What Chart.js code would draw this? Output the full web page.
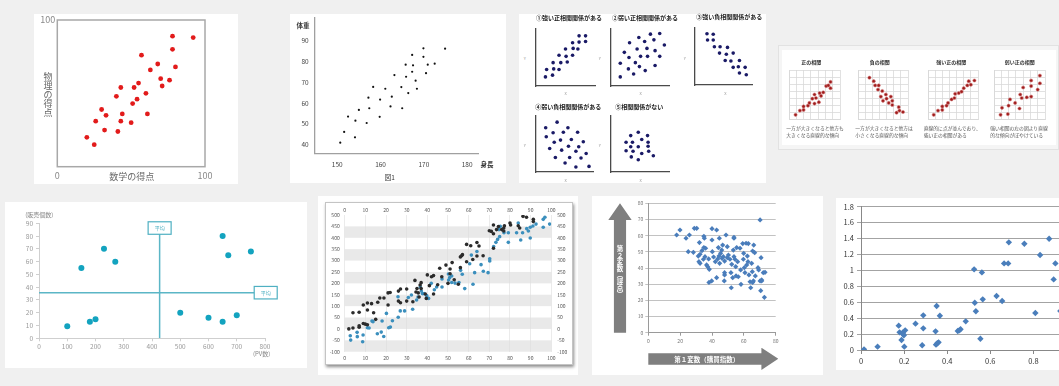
<!DOCTYPE html>
<html lang="ja">
<head>
<meta charset="utf-8">
<script src="https://cdn.jsdelivr.net/npm/chart.js@4.4.1/dist/chart.umd.min.js"></script>
<style>
  html, body { margin: 0; padding: 0; }
  body { position: relative; width: 1059px; height: 386px; overflow: hidden; background: #f0f0f0;
         font-family: 'Noto Sans CJK JP', 'Noto Sans', sans-serif; }
  .panel { position: absolute; background: #fff; }
  .t { position: absolute; white-space: nowrap; line-height: 1; }
</style>
</head>
<body>
<script>
// ---- data ----

// 数学と物理の得点
const mathScore = [78, 92, 78, 57, 68, 80, 63, 70, 76, 55, 71, 43, 52, 40, 60, 54, 51, 30, 44, 33, 61, 26, 43, 50, 32, 41, 20, 25];
const physicsScore = [89, 88, 80, 76, 70, 68, 66, 60, 59, 57, 55, 54, 54, 48, 50, 46, 43, 39, 36, 35, 36, 31, 31, 30, 25, 24, 20, 15];

// 身長と体重 (図1)
const heightCm = [174.9, 169.9, 167.3, 169.9, 165.8, 167.5, 170.9, 172.5, 163.2, 165.9, 167.3, 170.5, 168.1, 158.3, 161.1, 164.8,
                  168.4, 166.4, 157.2, 159.9, 162.6, 157.4, 155.0, 162.3, 165.0, 152.5, 159.8, 154.2, 156.8, 151.6, 154.1, 150.7];
const weightKg = [86.2, 86.4, 83.2, 82.3, 78.5, 78.2, 78.5, 79.0, 73.5, 72.7, 75.1, 74.4, 70.8, 67.8, 66.9, 67.7,
                  66.9, 64.8, 62.6, 61.7, 63.1, 57.5, 56.7, 58.4, 57.5, 53.5, 53.4, 51.5, 50.4, 46.1, 43.5, 40.9];
const heightTicks = [150, 160, 170, 180];
const weightTicks = [40, 50, 60, 70, 80, 90];

// 相関の5パターン
const strongPosX = [16, 28, 18, 30, 39, 29, 42, 53, 39, 51, 62, 50, 63, 71, 62, 73, 84, 73, 84];
const strongPosY = [16, 19, 29, 30, 29, 41, 41, 42, 54, 52, 54, 65, 66, 65, 76, 77, 78, 88, 88];
const weakPosX = [16, 39, 59, 30, 42, 49, 76, 16, 31, 51, 63, 84, 23, 45, 62, 76, 32, 58, 92, 48, 74, 68, 84];
const weakPosY = [16, 21, 27, 30, 41, 34, 36, 40, 50, 52, 52, 52, 59, 65, 66, 62, 76, 78, 72, 85, 81, 91, 92];
const strongNegX = [21, 32, 22, 32, 34, 44, 57, 43, 55, 67, 53, 63, 78, 67, 76, 88, 78, 90];
const strongNegY = [90, 89, 79, 79, 67, 67, 66, 56, 54, 56, 43, 42, 43, 31, 32, 31, 21, 18];
const weakNegX = [17, 37, 56, 18, 30, 48, 73, 32, 43, 62, 83, 24, 45, 57, 75, 70, 34, 59, 88, 51, 79, 70, 93];
const weakNegY = [79, 89, 79, 63, 70, 71, 71, 53, 57, 58, 54, 42, 39, 46, 45, 37, 26, 26, 33, 16, 25, 9, 10];
const noneX = [34, 47, 63, 26, 37, 53, 64, 34, 47, 64, 26, 38, 53, 65, 35, 47, 73];
const noneY = [65, 71, 65, 53, 53, 58, 53, 45, 45, 46, 38, 37, 33, 37, 27, 22, 29];

// 相関の4つの例 (グリッド 0-7)
const posX = [0.9, 1.5, 2.0, 2.0, 2.6, 2.8, 3.2, 3.5, 3.7, 4.1, 3.5, 4.2, 4.4, 4.7, 5.1, 5.4, 5.7, 5.7];
const posY = [0.6, 1.2, 1.3, 1.8, 1.9, 2.3, 2.9, 2.2, 3.0, 2.4, 3.5, 3.7, 3.3, 3.8, 4.7, 4.8, 4.4, 5.3];
const negX = [1.6, 2.2, 2.4, 2.9, 2.8, 3.4, 3.2, 3.5, 3.9, 4.0, 4.6, 4.3, 4.8, 4.8, 5.7, 5.8, 5.4, 6.3];
const negY = [5.9, 5.4, 4.8, 4.8, 4.2, 4.0, 3.2, 2.6, 3.5, 2.9, 3.2, 2.3, 2.6, 2.0, 1.7, 1.2, 0.9, 1.0];
const strongX = [0.8, 1.4, 2.0, 2.0, 2.6, 2.8, 3.3, 3.7, 3.8, 4.3, 4.7, 5.0, 5.5, 5.7, 6.0, 6.5];
const strongY = [0.6, 1.2, 1.3, 1.8, 1.9, 2.3, 2.8, 3.0, 3.6, 3.7, 3.9, 4.4, 4.8, 5.4, 4.9, 5.5];
const weakX = [0.9, 1.1, 1.9, 2.0, 2.2, 2.9, 3.5, 3.6, 3.8, 4.0, 4.5, 5.1, 5.1, 5.1, 6.0, 6.3, 6.3];
const weakY = [0.6, 1.6, 0.7, 1.9, 2.8, 2.3, 1.5, 3.5, 3.0, 4.5, 3.1, 3.2, 4.7, 5.5, 4.2, 5.1, 6.2];

// PV数と販売個数
const pvCount = [100, 150, 180, 200, 230, 270, 500, 600, 650, 650, 670, 700, 750];
const salesCount = [9.5, 55, 13, 15, 70, 60, 20, 16, 80, 13, 65, 18, 68];
const avgPv = 427;
const avgSales = 35.7;

// 2系列の散布図
const seriesAX = [2, 4, 4, 7, 7, 7, 9, 10, 11, 9, 11, 13, 11, 14, 15, 16, 17, 19, 21, 22, 21, 26, 27, 27, 26, 30, 30, 33, 34, 35,
                  34.5, 35.6, 36.5, 37, 37, 36, 39, 39.5, 40, 41, 42, 43, 43, 45, 46, 47, 49, 50, 51, 51, 52, 53, 55, 56, 56.6, 57, 56, 59, 59, 61,
                  62, 64, 64, 65, 67, 70, 71, 72, 72, 72, 73.5, 74.4, 76, 77, 77, 77.3, 80, 80.3, 84, 84.7, 86.3, 88, 91.3, 91.3];
const seriesAY = [0, 4, 71, 73, 7, 14, 24, 21, 18, 105, 114, 111, 83, 71, 42, 117, 136, 136, 158, 160, 105, 166, 175, 115, 122, 122, 175, 119, 213, 177,
                  162, 158, 193, 177, 203, 140, 153, 134, 237, 190, 229, 234, 153, 194, 266, 229, 280, 200, 242, 263, 291, 216, 196, 269, 321, 326, 316, 295, 371, 365,
                  305, 320, 379, 364, 321, 431, 428, 418, 456, 354, 436, 449, 436, 443, 430, 453, 465, 456, 453, 443, 494, 490, 481, 471];
const seriesBX = [2.7, 2.9, 6, 6.1, 8.7, 8.9, 11, 11.8, 13.2, 13.7, 15.8, 17.7, 18.9, 18.1, 20.2, 21.3, 22.1, 23.1, 25.9, 25.8,
                  26.9, 29, 30.8, 32.9, 32.3, 34.8, 35.5, 36.6, 37.1, 37.6, 38.4, 39.7, 40.6, 41.9, 43.4, 44.5, 47.1, 47.1, 50.2, 50.3,
                  50.8, 51.8, 51.8, 53.4, 55.3, 56.1, 56.9, 58.1, 60.5, 61.3, 62.1, 62.9, 64, 66, 67.1, 69.4, 70.2, 70.2, 72.1, 73.2,
                  74, 75, 74.7, 75.3, 77.1, 79.2, 79.2, 84, 83.2, 85.2, 86.1, 88.1, 88.9, 89.8, 89.8, 91.1, 92.6, 96.1, 96.1, 96.9, 99.2];
const seriesBY = [-30, -49, -15, -34, -56, -27, 5, 4, 35, 32, -21, -14, -33, 35, 68, 5, 8, 36, 51, 141,
                  79, 79, 138, 86, 149, 127, 140, 184, 166, 155, 155, 146, 134, 200, 172, 184, 219, 184, 241, 215,
                  225, 232, 204, 201, 204, 257, 240, 177, 286, 324, 196, 247, 340, 282, 253, 247, 308, 298, 362, 380,
                  393, 405, 436, 450, 422, 380, 422, 465, 422, 390, 422, 440, 430, 399, 446, 452, 460, 446, 481, 490, 460];
const bandRanges = [[400, 450], [300, 350], [200, 250], [100, 150], [0, 50], [-100, -50]];

// 第1変数（購買指数）と第2変数（評点）
const buyIndex = [17.8, 19.9, 23.7, 25.8, 25.1, 28.3, 28.9, 30.4, 31.4, 32.5, 32.1, 31.8, 32.5, 33.7, 34.9, 34.9, 35.2, 36.0, 34.6, 35.6,
                  36.6, 37.3, 37.9, 38.3, 38.1, 39.8, 40.0, 40.0, 40.2, 41.0, 42.1, 42.9, 43.6, 42.9, 44.0, 44.4, 44.6, 44.8, 45.4, 46.1,
                  46.3, 46.7, 47.1, 47.9, 47.9, 47.7, 47.9, 48.8, 49.6, 49.6, 50.3, 51.3, 52.4, 51.9, 52.1, 53.0, 53.4, 53.8, 53.8, 53.8,
                  54.4, 54.9, 55.1, 55.5, 56.1, 56.5, 57.6, 58.0, 58.2, 59.3, 59.7, 59.9, 60.3, 60.7, 61.4, 61.8, 62.2, 62.8, 62.6, 63.2,
                  63.9, 64.3, 64.9, 65.5, 65.3, 66.0, 66.2, 66.8, 67.2, 65.5, 68.9, 69.3, 70.2, 70.6, 70.2, 70.8, 71.2, 72.2, 73.3, 72.9, 71.2];
const rating = [60.4, 63.5, 58.4, 60.4, 50.1, 49.7, 64.5, 64.5, 47.4, 48.5, 55.7, 43.9, 42.9, 50.7, 52.6, 59.6, 58.4, 52.2, 45.4, 47.0,
                41.9, 40.8, 45.6, 39.2, 31.1, 32.0, 64.3, 57.3, 50.1, 46.8, 43.9, 63.5, 45.6, 34.0, 52.6, 47.4, 58.4, 42.9, 49.1, 51.1,
                46.0, 54.2, 47.0, 37.1, 35.7, 32.0, 44.3, 60.4, 53.2, 46.4, 48.0, 45.4, 42.3, 37.1, 27.8, 34.0, 51.1, 59.0, 58.4, 47.0,
                45.4, 40.8, 35.1, 52.6, 43.9, 34.6, 52.2, 38.8, 29.9, 55.1, 45.4, 49.1, 40.2, 37.1, 55.3, 41.9, 47.4, 55.1, 43.9, 35.7,
                31.5, 27.8, 42.9, 50.5, 37.7, 32.0, 54.2, 49.5, 35.1, 31.1, 40.2, 38.8, 32.0, 26.0, 69.7, 46.4, 32.0, 37.1, 37.3, 21.9, 32.6];

// 0-1 の散布図
const ratioX = [0.014, 0.077, 0.175, 0.179, 0.188, 0.193, 0.199, 0.205, 0.201, 0.196, 0.253, 0.289, 0.289, 0.284, 0.346, 0.351, 0.366, 0.348, 0.354, 0.360,
                0.449, 0.456, 0.462, 0.486, 0.525, 0.528, 0.533, 0.554, 0.561, 0.565, 0.629, 0.655, 0.664, 0.683, 0.686, 0.758, 0.809, 0.831, 0.873, 0.894, 0.902, 0.925];
const ratioY = [0.008, 0.042, 0.306, 0.222, 0.126, 0.218, 0.184, 0.247, 0.042, 0.197, 0.331, 0.272, 0.435, 0.059, 0.234, 0.553, 0.431, 0.067, 0.084, 0.096,
                0.239, 0.247, 0.260, 0.360, 1.013, 0.594, 0.486, 0.142, 0.975, 0.636, 0.678, 0.615, 1.088, 1.088, 1.352, 1.335, 0.465, 1.193, 1.398, 0.887, 1.088, 0.49];
const ratioXTicks = [0, 0.2, 0.4, 0.6, 0.8, 1];
const ratioYTicks = [0, 0.2, 0.4, 0.6, 0.8, 1, 1.2, 1.4, 1.6, 1.8];

// ---- helpers ----
Chart.defaults.font.family = "'Noto Sans CJK JP', 'Noto Sans', sans-serif";
Chart.defaults.animation = false;
Chart.defaults.responsive = false;
Chart.defaults.events = [];
Chart.defaults.plugins.legend.display = false;
Chart.defaults.plugins.tooltip.enabled = false;

const pts = (xs, ys) => xs.map((x, i) => ({ x, y: ys[i] }));
const setTicks = vals => s => { s.ticks = vals.map(v => ({ value: v })); };
const noGrid = { display: false, drawTicks: false };

// fix axis thickness so the plot area lands where the picture has it
const fix = n => s => {
  if (s.isHorizontal()) s.height = n; else s.width = n;
  s.paddingLeft = s.paddingRight = s.paddingTop = s.paddingBottom = 0;
};

function panel(l, t, w, h, css) {
  const d = document.createElement('div');
  d.className = 'panel';
  d.style.cssText = `left:${l}px;top:${t}px;width:${w}px;height:${h}px;${css || ''}`;
  document.body.appendChild(d);
  return d;
}

function label(str, x, y, css, align) {
  const d = document.createElement('div');
  d.className = 't';
  d.textContent = str;
  const tx = align === 'left' ? '0' : '-50%';
  d.style.cssText = `left:${x}px;top:${y}px;transform:translate(${tx},-50%);${css || ''}`;
  document.body.appendChild(d);
  return d;
}

// 縦書き: one upright character under the other
function labelV(str, x, y, size, css) {
  const chars = [...str];
  const y0 = y - (chars.length - 1) * size / 2;
  chars.forEach((ch, i) => label(ch, x, y0 + i * size, `font-size:${size}px;${css}`));
}

// c = canvas [left, top, width, height], plot = [left, top, right, bottom], all in page pixels
function chart(c, plot, config) {
  const L = Math.round(c[0]), T = Math.round(c[1]), W = Math.round(c[2]), H = Math.round(c[3]);
  const cv = document.createElement('canvas');
  cv.width = W; cv.height = H;
  cv.style.cssText = `position:absolute;left:${L}px;top:${T}px`;
  document.body.appendChild(cv);
  const pad = { left: plot[0] - L, top: plot[1] - T, right: L + W - plot[2], bottom: T + H - plot[3] };
  const opts = config.options = config.options || {};
  const used = {};
  Object.entries(opts.scales || {}).forEach(([id, s]) => {
    s.position = s.position || (id[0] === 'x' ? 'bottom' : 'left');
    s.afterFit = fix(pad[s.position]);
    used[s.position] = true;
  });
  opts.layout = { padding: {
    left: used.left ? 0 : pad.left, top: used.top ? 0 : pad.top,
    right: used.right ? 0 : pad.right, bottom: used.bottom ? 0 : pad.bottom } };
  config.type = config.type || 'scatter';
  return new Chart(cv, config);
}

const framePlugin = {
  id: 'frame',
  beforeDatasetsDraw(c, a, o) {
    const { ctx, chartArea: r } = c;
    ctx.save();
    ctx.strokeStyle = o.color; ctx.lineWidth = o.width;
    ctx.strokeRect(r.left, r.top, r.width, r.height);
    ctx.restore();
  }
};

const bandPlugin = {
  id: 'bands',
  beforeDraw(c, a, o) {
    const { ctx, chartArea: r, scales: { y } } = c;
    ctx.save();
    ctx.fillStyle = o.color;
    o.ranges.forEach(([lo, hi]) => {
      const top = y.getPixelForValue(hi), bot = y.getPixelForValue(lo);
      ctx.fillRect(r.left, top, r.width, bot - top);
    });
    ctx.restore();
  }
};

const tagPlugin = {
  id: 'tags',
  afterDatasetsDraw(c, a, o) {
    const { ctx, scales: { x, y } } = c;
    ctx.save();
    ctx.font = o.font; ctx.textAlign = 'center'; ctx.textBaseline = 'middle';
    o.items.forEach(t => {
      const cx = x.getPixelForValue(t.x), cy = y.getPixelForValue(t.y);
      ctx.fillStyle = '#fff';
      ctx.fillRect(cx - o.w / 2, cy - o.h / 2, o.w, o.h);
      ctx.strokeStyle = o.color; ctx.lineWidth = 1.2;
      ctx.strokeRect(cx - o.w / 2, cy - o.h / 2, o.w, o.h);
      ctx.fillStyle = o.color;
      ctx.fillText(t.text, cx, cy + 0.5);
    });
    ctx.restore();
  }
};

// ---- panels ----
panel(34, 14, 204, 170);
panel(290, 14, 216, 169);
panel(519, 14, 247, 169);
panel(778, 45, 281, 105, 'background:#f5f5f5;border:1px solid #e2e2e2;box-sizing:border-box');
panel(782, 50, 274, 95);
panel(5, 202, 302, 166);
panel(318, 196, 260, 179);
panel(325, 202, 248, 163, 'border:1px solid #c4c4c4;box-sizing:border-box;box-shadow:1px 2px 3px rgba(0,0,0,0.45)');
panel(592, 196, 231, 179);
panel(836, 198, 223, 172);

// ---- 1: 数学と物理 ----
const grayTick = (size, color, padding) => ({ font: { size }, color, padding });
chart([34, 14, 204, 170], [57.3, 20, 205, 166.7], {
  data: { datasets: [{ data: pts(mathScore, physicsScore), pointRadius: 2.4, pointBackgroundColor: '#e21b1b', pointBorderWidth: 0 }] },
  options: {
    scales: {
      x: { min: 0, max: 100, grid: noGrid, border: { display: false }, afterBuildTicks: setTicks([0, 100]), ticks: grayTick(9, '#8a8a8a', 3) },
      y: { min: 0, max: 100, grid: noGrid, border: { display: false }, afterBuildTicks: setTicks([100]), ticks: grayTick(9, '#8a8a8a', 2) }
    },
    plugins: { frame: { color: '#a8a8a8', width: 1.5 } }
  },
  plugins: [framePlugin]
});
label('数学の得点', 131.7, 175.7, 'font-size:9px;color:#666');
labelV('物理の得点', 48, 93.5, 9, 'color:#666');

// ---- 2: 身長と体重 ----
chart([290, 14, 216, 169], [314.7, 15, 478, 153.3], {
  data: { datasets: [{ data: pts(heightCm, weightKg), pointRadius: 1.1, pointBackgroundColor: '#111', pointBorderWidth: 0 }] },
  options: {
    scales: {
      x: { min: 144.8, max: 182.5, grid: noGrid, border: { color: '#a0a0a0', width: 1.3 }, afterBuildTicks: setTicks(heightTicks), ticks: grayTick(6.5, '#444', 7) },
      y: { min: 35.8, max: 101, grid: noGrid, border: { color: '#a0a0a0', width: 1.3 }, afterBuildTicks: setTicks(weightTicks), ticks: grayTick(6.5, '#444', 6) }
    }
  }
});
label('体重', 303, 25, 'font-size:6.5px;font-weight:bold;color:#333');
label('身長', 487, 164, 'font-size:6.5px;font-weight:bold;color:#333');
label('図1', 389.7, 177.3, 'font-size:6.5px;color:#333');

// ---- 3: 相関の5パターン ----
function mini(area, xs, ys) {
  const m = 3;
  chart([area[0] - m, area[1] - m, area[2] - area[0] + 2 * m, area[3] - area[1] + 2 * m], area, {
    data: { datasets: [{ data: pts(xs, ys), pointRadius: 1.8, pointBackgroundColor: '#1a1a66', pointBorderWidth: 0 }] },
    options: {
      scales: {
        x: { min: 0, max: 100, grid: noGrid, ticks: { display: false }, border: { color: '#4a4a4a', width: 1.3 } },
        y: { min: 0, max: 100, grid: noGrid, ticks: { display: false }, border: { color: '#4a4a4a', width: 1.3 } }
      }
    }
  });
}
mini([534.7, 28.3, 595.3, 87.3], strongPosX, strongPosY);
mini([609.7, 28.3, 669.7, 87.3], weakPosX, weakPosY);
mini([693.7, 27.3, 753, 86.7], strongNegX, strongNegY);
mini([534.7, 115, 594, 173.3], weakNegX, weakNegY);
mini([609.7, 115, 669.7, 173.3], noneX, noneY);
const t3 = 'font-size:6px;font-weight:bold;color:#222';
label('①強い正相関関係がある', 569, 18.3, t3);
label('②弱い正相関関係がある', 645, 18.3, t3);
label('③強い負相関関係がある', 729.3, 17.3, t3);
label('④弱い負相関関係がある', 568.3, 106.7, t3);
label('⑤相関関係がない', 639.2, 106.7, t3);
const xy3 = 'font-size:4px;color:#999';
[[524.7, 58.3], [599.7, 58.3], [684.7, 57.7], [524.7, 145], [599.7, 145]].forEach(p => label('Y', p[0], p[1], xy3));
[[565.7, 93.3], [640.7, 93.3], [725.3, 92.7], [565.7, 180], [640.7, 180]].forEach(p => label('X', p[0], p[1], xy3));

// ---- 4: 正・負・強い・弱い ----
function grid7(area, xs, ys) {
  const m = 2;
  chart([area[0] - m, area[1] - m, area[2] - area[0] + 2 * m, area[3] - area[1] + 2 * m], area, {
    data: { datasets: [{ data: pts(xs, ys), pointRadius: 1.6, pointBackgroundColor: '#9e1c1c', pointBorderColor: 'rgba(214,120,120,0.55)', pointBorderWidth: 1 }] },
    options: {
      scales: {
        x: { min: 0, max: 7, ticks: { display: false, stepSize: 1 }, grid: { color: '#d9d9d9', lineWidth: 0.8, drawTicks: false }, border: { color: '#d9d9d9' } },
        y: { min: 0, max: 7, ticks: { display: false, stepSize: 1 }, grid: { color: '#d9d9d9', lineWidth: 0.8, drawTicks: false }, border: { color: '#d9d9d9' } }
      }
    }
  });
}
grid7([786.3, 66.7, 843, 121.7], posX, posY);
grid7([855.3, 66.7, 911.3, 121.7], negX, negY);
grid7([924.7, 66.7, 980.3, 121.7], strongX, strongY);
grid7([991.3, 66.7, 1048, 121.7], weakX, weakY);
const t4 = 'font-size:5px;font-weight:bold;color:#333';
label('正の相関', 811.3, 60.7, t4);
label('負の相関', 879.7, 60.7, t4);
label('強い正の相関', 951.3, 60.7, t4);
label('弱い正の相関', 1019.7, 60.7, t4);
const c4 = 'font-size:4.8px;color:#555';
[[786.3, '一方が大きくなると他方も', '大きくなる直線的な傾向'],
 [855.3, '一方が大きくなると他方は', '小さくなる直線的な傾向'],
 [923.7, '直線的に点が並んでおり、', '強い正の相関がある'],
 [990.3, '強い相関の左の図より直線', '的な傾向がぼやけている']].forEach(([x, a, b]) => {
  label(a, x, 128.3, c4, 'left');
  label(b, x, 135, c4, 'left');
});

// ---- 5: PV数と販売個数 ----
const teal = '#5bb6c6';
chart([5, 202, 302, 166], [39, 223.3, 265, 338.3], {
  data: { datasets: [
    { data: pts(pvCount, salesCount), pointRadius: 3, pointBackgroundColor: '#13a3bf', pointBorderWidth: 0 },
    { data: [{ x: avgPv, y: 0 }, { x: avgPv, y: 90 }], showLine: true, pointRadius: 0, borderColor: teal, borderWidth: 1.5 },
    { data: [{ x: 0, y: avgSales }, { x: 800, y: avgSales }], showLine: true, pointRadius: 0, borderColor: teal, borderWidth: 1.5 }
  ] },
  options: {
    scales: {
      x: { min: 0, max: 800, ticks: { stepSize: 100, font: { size: 6.5 }, color: '#999', padding: 1 },
           grid: { drawOnChartArea: false, tickLength: 3, color: '#cfcfcf' }, border: { color: '#cfcfcf' } },
      y: { min: 0, max: 90, ticks: { stepSize: 10, font: { size: 6.5 }, color: '#999', padding: 3 },
           grid: { drawOnChartArea: false, tickLength: 3, color: '#cfcfcf' }, border: { color: '#cfcfcf' } }
    },
    plugins: { tags: { items: [{ x: avgPv, y: 86.3, text: '平均' }, { x: 802.5, y: avgSales, text: '平均' }],
                       w: 23, h: 12.5, color: '#4fb0c2', font: "5px 'Noto Sans CJK JP'" } }
  },
  plugins: [tagPlugin]
});
label('(販売個数)', 39.3, 215, 'font-size:6px;color:#888');
label('(PV数)', 261.7, 354.3, 'font-size:6px;color:#888');

// ---- 6: 2系列 ----
const tick6 = pad => ({ font: { size: 5 }, color: '#555', padding: pad });
chart([325, 202, 248, 163], [344.7, 215, 551.3, 351.7], {
  data: { datasets: [
    { data: pts(seriesAX, seriesAY), pointRadius: 1.8, pointBackgroundColor: '#2b2b2b', pointBorderWidth: 0 },
    { data: pts(seriesBX, seriesBY), pointRadius: 1.8, pointBackgroundColor: '#3b8fbd', pointBorderWidth: 0 }
  ] },
  options: {
    scales: {
      x: { min: 0, max: 100, ticks: { ...tick6(3.5), stepSize: 10 }, grid: { color: '#dedede', lineWidth: 0.6, drawTicks: false }, border: { display: false } },
      x2: { position: 'top', min: 0, max: 100, ticks: { ...tick6(2), stepSize: 10 }, grid: noGrid, border: { display: false } },
      y: { min: -100, max: 500, ticks: { ...tick6(5), stepSize: 50 }, grid: noGrid, border: { display: false } },
      y2: { position: 'right', min: -100, max: 500, ticks: { ...tick6(6), stepSize: 50 }, grid: noGrid, border: { display: false } }
    },
    plugins: { bands: { ranges: bandRanges, color: '#e9e9e9' } }
  },
  plugins: [bandPlugin]
});

// ---- 7: 購買指数と評点 ----
chart([596, 197, 226, 176], [648.3, 203.3, 775.7, 332.7], {
  data: { datasets: [{ data: pts(buyIndex, rating), pointStyle: 'rectRot', pointRadius: 2.6, pointBackgroundColor: '#4a7dbb', pointBorderWidth: 0 }] },
  options: {
    scales: {
      x: { min: 0, max: 80, afterBuildTicks: setTicks([0, 20, 40, 60, 80]), ticks: { font: { size: 5 }, color: '#777', padding: 2 },
           grid: { drawOnChartArea: false, tickLength: 3, color: '#9a9a9a' }, border: { color: '#9a9a9a' } },
      y: { min: 0, max: 80, ticks: { stepSize: 10, font: { size: 5 }, color: '#777', padding: 2 },
           grid: { color: '#a8a8a8', lineWidth: 0.7, tickLength: 3 }, border: { color: '#9a9a9a' } }
    }
  }
});
panel(608.3, 203.3, 23.4, 129.4, 'background:#7f7f7f;clip-path:polygon(50% 0,100% 13%,76% 13%,76% 100%,24% 100%,24% 13%,0 13%)');
panel(648.3, 347.7, 130, 22.3, 'background:#7f7f7f;clip-path:polygon(0 25%,87% 25%,87% 0,100% 50%,87% 100%,87% 76%,0 76%)');
labelV('第２変数︵評点︶', 620, 271, 6.5, 'font-weight:bold;color:#fff');
label('第１変数（購買指数）', 706.7, 359.2, 'font-size:6.5px;font-weight:bold;color:#fff');

// ---- 8: 0-1 の散布図 ----
chart([837, 199, 250, 171], [861, 206.7, 1076.5, 350], {
  data: { datasets: [{ data: pts(ratioX, ratioY), pointStyle: 'rectRot', pointRadius: 3.2, pointBackgroundColor: '#4a7ebb', pointBorderWidth: 0 }] },
  options: {
    scales: {
      x: { min: 0, max: 1, afterBuildTicks: setTicks(ratioXTicks), ticks: { font: { size: 7.5 }, color: '#333', padding: 3, callback: v => String(v) },
           grid: { drawOnChartArea: false, tickLength: 4, color: '#888' }, border: { color: '#888' } },
      y: { min: 0, max: 1.8, afterBuildTicks: setTicks(ratioYTicks), ticks: { font: { size: 7.5 }, color: '#333', padding: 3, callback: v => String(v) },
           grid: { color: '#8c8c8c', lineWidth: 0.8, tickLength: 4 }, border: { color: '#888' } }
    }
  }
});
</script>
</body>
</html>
